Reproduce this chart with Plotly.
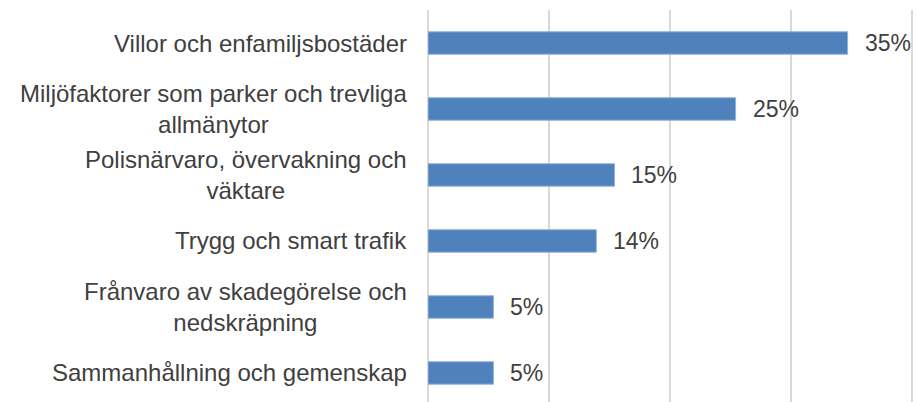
# horizontal bar chart of survey answers (share of respondents)
import plotly.graph_objects as go

categories = [
    "Villor och enfamiljsbostäder",
    "Miljöfaktorer som parker och trevliga<br>allmänytor",
    "Polisnärvaro, övervakning och<br>väktare",
    "Trygg och smart trafik",
    "Frånvaro av skadegörelse och<br>nedskräpning",
    "Sammanhållning och gemenskap",
]
values = [34.65, 25.4, 15.4, 13.9, 5.4, 5.4]
value_labels = ["35%", "25%", "15%", "14%", "5%", "5%"]
x_ticks = [0, 10, 20, 30, 40]

text_color = "#404040"
bar_color = "#4F81BD"
font_family = "Arial, Liberation Sans, sans-serif"

fig = go.Figure()

fig.add_trace(go.Bar(
    x=values, y=categories, orientation="h",
    marker=dict(color=bar_color, line=dict(color="#8fb0d9", width=1)),
    hoverinfo="x+y",
))

annotations = []
# category labels, lines centred like in the original
for cat in categories:
    annotations.append(dict(
        x=0, y=cat, xref="x", yref="y", text=cat, showarrow=False,
        xanchor="right", yanchor="middle", align="center", xshift=-19,
        font=dict(size=24, color=text_color, family=font_family),
    ))
# value labels at end of bars
for cat, v, lab in zip(categories, values, value_labels):
    annotations.append(dict(
        x=v, y=cat, xref="x", yref="y", text=lab, showarrow=False,
        xanchor="left", yanchor="middle", xshift=15,
        font=dict(size=23, color=text_color, family=font_family),
    ))

fig.update_layout(
    width=916, height=402,
    margin=dict(l=428, r=0, t=10, b=0),
    paper_bgcolor="white", plot_bgcolor="white",
    bargap=0.66, showlegend=False,
    annotations=annotations,
    font=dict(family=font_family, color=text_color),
)
fig.update_xaxes(
    range=[0, 40.3], tickvals=x_ticks, showticklabels=False,
    showgrid=True, gridcolor="#d9d9d9", gridwidth=2,
    zeroline=True, zerolinecolor="#d9d9d9", zerolinewidth=2,
    showline=False, fixedrange=True,
)
fig.update_yaxes(
    type="category", categoryorder="array", categoryarray=categories,
    range=[5.44, -0.5], showticklabels=False, showgrid=False,
    zeroline=False, showline=False, fixedrange=True,
)

# drop the default page margin so the figure sits at the window corner
fig.write_html("out.html", config={"displayModeBar": False},
               post_script="document.body.style.margin='0';document.body.style.overflow='hidden';")
